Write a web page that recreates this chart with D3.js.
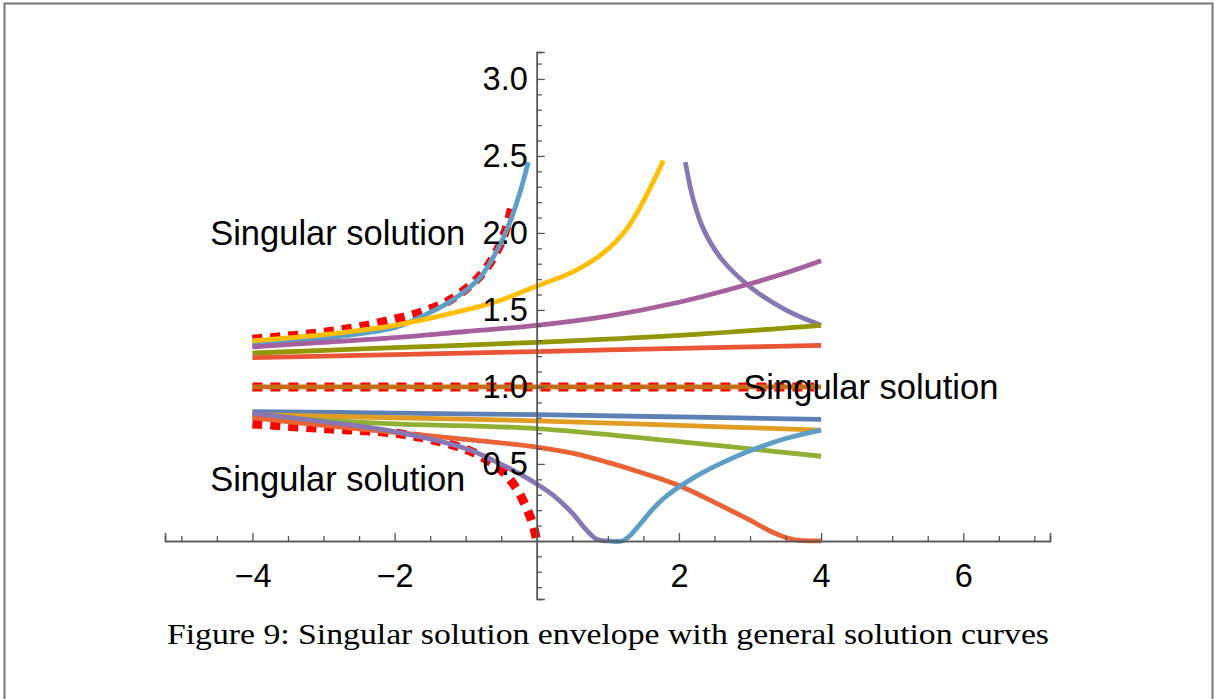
<!DOCTYPE html>
<html>
<head>
<meta charset="utf-8">
<script src="https://cdn.jsdelivr.net/npm/d3@7"></script>
<style>
  html, body { margin: 0; padding: 0; background: #fff; }
  svg { display: block; }
</style>
</head>
<body>
<div id="chart"></div>
<script>
const xMajorTicks = [-4, -2, 2, 4, 6];
const xMinorTicks = [-5, -4.5, -3.5, -3, -2.5, -1.5, -1, -0.5, 0.5, 1, 1.5, 2.5, 3, 3.5, 4.5, 5, 5.5, 6.5, 7];
const yMajorTicks = [0.5, 1.0, 1.5, 2.0, 2.5, 3.0];
const yMinorTicks = [-0.3, -0.2, -0.1, 0.1, 0.2, 0.3, 0.4, 0.6, 0.7, 0.8, 0.9, 1.1, 1.2, 1.3, 1.4,
  1.6, 1.7, 1.8, 1.9, 2.1, 2.2, 2.3, 2.4, 2.6, 2.7, 2.8, 2.9, 3.1];

// singular solutions (red dashed)
const singularUpper = [[-4, 1.31], [-3.5, 1.33], [-3, 1.355], [-2.5, 1.39], [-2, 1.44], [-1.6, 1.49],
  [-1.2, 1.57], [-0.8, 1.72], [-0.6, 1.85], [-0.45, 2.0], [-0.33, 2.21]];
const singularMiddle = [[-4, 1.0], [3.9, 1.0]];
const singularLower = [[-4, 0.76], [-3, 0.73], [-2, 0.70], [-1.5, 0.66], [-1, 0.595], [-0.75, 0.54],
  [-0.5, 0.46], [-0.3, 0.35], [-0.15, 0.22], [-0.05, 0.1], [0, 0]];

// general solution curves
const blueUpper = [[-4, 1.27], [-3, 1.315], [-2, 1.385], [-1.7, 1.44], [-1.2, 1.56], [-0.8, 1.71],
  [-0.5, 1.94], [-0.33, 2.13], [-0.2, 2.32], [-0.12, 2.46]];
const goldUpper = [[-4, 1.30], [-3, 1.34], [-2, 1.40], [-1, 1.50], [-0.5, 1.565], [0, 1.655], [0.5, 1.745],
  [0.95, 1.875], [1.27, 2.03], [1.55, 2.25], [1.78, 2.47]];
const lavenderUpper = [[2.09, 2.46], [2.2, 2.22], [2.35, 2.02], [2.6, 1.83], [3.0, 1.65], [3.5, 1.50], [4.0, 1.40]];
const magenta = [[-4, 1.26], [-3, 1.29], [-2, 1.32], [-1, 1.36], [0, 1.40], [1, 1.46], [2, 1.55],
  [3, 1.67], [3.5, 1.74], [4, 1.82]];
const olive = [[-4, 1.22], [-2, 1.255], [0, 1.29], [2, 1.335], [4, 1.40]];
const vermilion = [[-4, 1.19], [-2, 1.21], [0, 1.23], [2, 1.25], [4, 1.27]];
const brown = [[-4, 1.0], [4, 1.0]];
const steelBlue = [[-4, 0.84], [-2, 0.83], [0, 0.82], [2, 0.805], [4, 0.79]];
const orange = [[-4, 0.82], [-2, 0.80], [0, 0.78], [2, 0.75], [4, 0.72]];
const green = [[-4, 0.81], [-2, 0.76], [0, 0.73], [2, 0.645], [4, 0.55]];
const redOrange = [[-4, 0.80], [-3, 0.75], [-2, 0.705], [-1, 0.66], [0, 0.61], [0.5, 0.57], [1, 0.51],
  [1.5, 0.44], [2, 0.36], [2.5, 0.25], [3, 0.135], [3.3, 0.06], [3.6, 0.01], [4, 0]];
const lavenderLower = [[-4, 0.83], [-3, 0.775], [-2, 0.71], [-1, 0.60], [-0.6, 0.52], [-0.3, 0.45],
  [0, 0.37], [0.25, 0.29], [0.5, 0.18], [0.7, 0.07], [0.85, 0.01], [1.0, 0]];
const blueLower = [[1.0, 0], [1.2, 0.0], [1.3, 0.03], [1.4, 0.08], [1.5, 0.135], [1.6, 0.19], [1.7, 0.24],
  [1.8, 0.282], [1.9, 0.318], [2.0, 0.35], [2.3, 0.435], [2.6, 0.505], [3.0, 0.585], [3.5, 0.665], [4.0, 0.72]];

const curves = [
  { data: singularUpper, color: '#ff0000', dashed: true },
  { data: singularMiddle, color: '#ff0000', dashed: true },
  { data: singularLower, color: '#ff0000', dashed: true },
  { data: steelBlue, color: '#5e81b5' },
  { data: orange, color: '#e19c24' },
  { data: green, color: '#8fb032' },
  { data: redOrange, color: '#eb6235' },
  { data: lavenderLower, color: '#8778b3' },
  { data: lavenderUpper, color: '#8778b3' },
  { data: brown, color: '#c56e1a' },
  { data: blueUpper, color: '#5d9ec7' },
  { data: blueLower, color: '#5d9ec7' },
  { data: goldUpper, color: '#ffbf00' },
  { data: magenta, color: '#a5609d' },
  { data: olive, color: '#929600' },
  { data: vermilion, color: '#e95536' },
];

const labels = [
  { x: -2.8, y: 2.0, text: 'Singular solution' },
  { x: -2.8, y: 0.4, text: 'Singular solution' },
  { x: 4.7, y: 1.0, text: 'Singular solution' },
];

const caption = 'Figure 9: Singular solution envelope with general solution curves';

const width = 1214;
const height = 699;

const xScale = d3.scaleLinear().domain([-5.23, 7.22]).range([165, 1050]);
const yScale = d3.scaleLinear().domain([-0.377, 3.175]).range([599, 52]);

const svg = d3.select('#chart')
  .append('svg')
  .attr('width', width)
  .attr('height', height);

// page frame
svg.append('path')
  .attr('d', `M4.5,${height} V3.5 H1212.5 V${height}`)
  .attr('fill', 'none')
  .attr('stroke', '#777')
  .attr('stroke-width', 2);

// curves
const line = d3.line()
  .x((d) => xScale(d[0]))
  .y((d) => yScale(d[1]))
  .curve(d3.curveCatmullRom.alpha(0.5));

svg.append('g')
  .selectAll('path')
  .data(curves)
  .join('path')
  .attr('d', (d) => line(d.data))
  .attr('fill', 'none')
  .attr('stroke', (d) => d.color)
  .attr('stroke-width', (d) => (d.dashed ? 9 : 4.8))
  .attr('stroke-dasharray', (d) => (d.dashed ? '10,8' : null))
  .attr('stroke-linejoin', 'round');

// axes
const x0 = xScale(0);
const y0 = yScale(0);

const xMinor = d3.axisBottom(xScale).tickValues(xMinorTicks).tickSize(-5).tickFormat('');
const xMajor = d3.axisBottom(xScale).tickValues(xMajorTicks).tickSize(-8).tickPadding(23)
  .tickFormat((d) => d3.format('')(d).replace('-', '\u2212'));
const yMinor = d3.axisLeft(yScale).tickValues(yMinorTicks).tickSize(-5).tickFormat('');
const yMajor = d3.axisLeft(yScale).tickValues(yMajorTicks).tickSize(-8).tickPadding(9)
  .tickFormat(d3.format('.1f'));

function styleAxis(g) {
  g.select('.domain').attr('stroke', '#555').attr('stroke-width', 1.5);
  g.selectAll('.tick line').attr('stroke', '#555').attr('stroke-width', 1.3);
  g.selectAll('.tick text')
    .attr('fill', '#000')
    .style('font-family', '"Liberation Sans", Arial, sans-serif')
    .style('font-size', '32.5px');
}

svg.append('g').attr('transform', `translate(0,${y0})`).call(xMinor).call(styleAxis);
svg.append('g').attr('transform', `translate(0,${y0})`).call(xMajor).call(styleAxis);
svg.append('g').attr('transform', `translate(${x0},0)`).call(yMinor).call(styleAxis);
svg.append('g').attr('transform', `translate(${x0},0)`).call(yMajor).call(styleAxis);

// singular solution labels
svg.append('g')
  .selectAll('text')
  .data(labels)
  .join('text')
  .attr('x', (d) => xScale(d.x))
  .attr('y', (d) => yScale(d.y))
  .attr('dy', '0.35em')
  .attr('text-anchor', 'middle')
  .style('font-family', '"Liberation Sans", Arial, sans-serif')
  .style('font-size', '34.5px')
  .attr('fill', '#000')
  .text((d) => d.text);

// caption
svg.append('text')
  .attr('x', 608)
  .attr('y', 644)
  .attr('text-anchor', 'middle')
  .attr('textLength', 882)
  .attr('lengthAdjust', 'spacingAndGlyphs')
  .style('font-family', '"Liberation Serif", "DejaVu Serif", serif')
  .style('font-size', '30px')
  .attr('fill', '#000')
  .text(caption);
</script>
</body>
</html>
